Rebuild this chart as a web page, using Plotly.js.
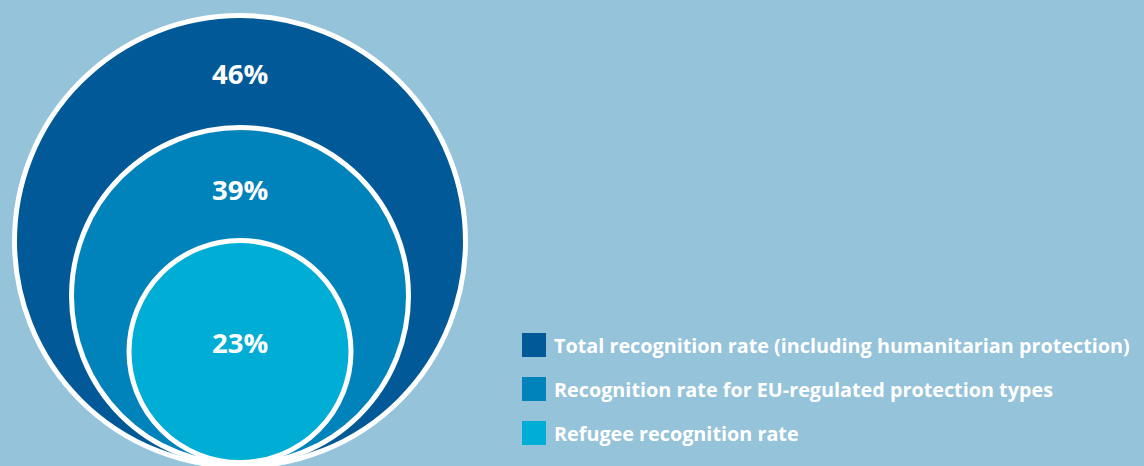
<!DOCTYPE html>
<html>
<head>
<meta charset="utf-8">
<script src="https://cdn.plot.ly/plotly-3.0.1.min.js"></script>
<style>
  html, body { margin: 0; padding: 0; background: #95c3da; }
  #chart { width: 1144px; height: 466px; }
</style>
</head>
<body>
<div id="chart"></div>
<script>
// ---- data ----
const categories = [
  "Total recognition rate (including humanitarian protection)",
  "Recognition rate for EU-regulated protection types",
  "Refugee recognition rate"
];
const values = [46, 39, 23];
const valueLabels = values.map(v => v + "%");

// ---- styles / layout (pixel units; axes map 1 unit = 1 px) ----
const colors = ["#015a97", "#0083bb", "#00aed5"];
const bg = "#95c3da";
const circleRadius = [225.5, 168.5, 111];
const circleCenterY = [241, 296, 351.5];
const circleCenterX = 240;
const labelY = [73, 189, 342];
const legendX = 522, legendBox = 24, legendTextX = 552;
const legendRowY = [345, 389, 433];
const fontFamily = "'Open Sans', sans-serif";

const W = 1144, H = 466;
const shapes = [];
const annotations = [];

categories.forEach((c, i) => {
  const r = circleRadius[i], cy = circleCenterY[i];
  shapes.push({
    type: "circle", xref: "x", yref: "y",
    x0: circleCenterX - r, x1: circleCenterX + r,
    y0: cy - r, y1: cy + r,
    fillcolor: colors[i],
    line: { color: "#ffffff", width: 5 }
  });
  annotations.push({
    x: circleCenterX, y: labelY[i], xref: "x", yref: "y",
    text: "<b>" + valueLabels[i] + "</b>", showarrow: false,
    font: { family: fontFamily, size: 27.5, color: "#ffffff" },
    xanchor: "center", yanchor: "middle"
  });
  // legend
  shapes.push({
    type: "rect", xref: "x", yref: "y",
    x0: legendX, x1: legendX + legendBox,
    y0: legendRowY[i] - legendBox / 2, y1: legendRowY[i] + legendBox / 2,
    fillcolor: colors[i], line: { width: 0 }
  });
  annotations.push({
    x: legendTextX, y: legendRowY[i], xref: "x", yref: "y",
    text: "<b>" + c + "</b>", showarrow: false,
    font: { family: fontFamily, size: 19.8, color: "#ffffff" },
    xanchor: "left", yanchor: "middle"
  });
});

const trace = {
  x: [0, W], y: [0, H], mode: "markers", type: "scatter",
  marker: { opacity: 0 }, hoverinfo: "skip", showlegend: false
};

const layout = {
  width: W, height: H,
  margin: { l: 0, r: 0, t: 0, b: 0, pad: 0 },
  paper_bgcolor: bg, plot_bgcolor: bg,
  showlegend: false,
  xaxis: { range: [0, W], visible: false, fixedrange: true },
  yaxis: { range: [H, 0], visible: false, fixedrange: true },
  shapes: shapes,
  annotations: annotations
};

Plotly.newPlot("chart", [trace], layout, { displayModeBar: false, staticPlot: true });
</script>
</body>
</html>
